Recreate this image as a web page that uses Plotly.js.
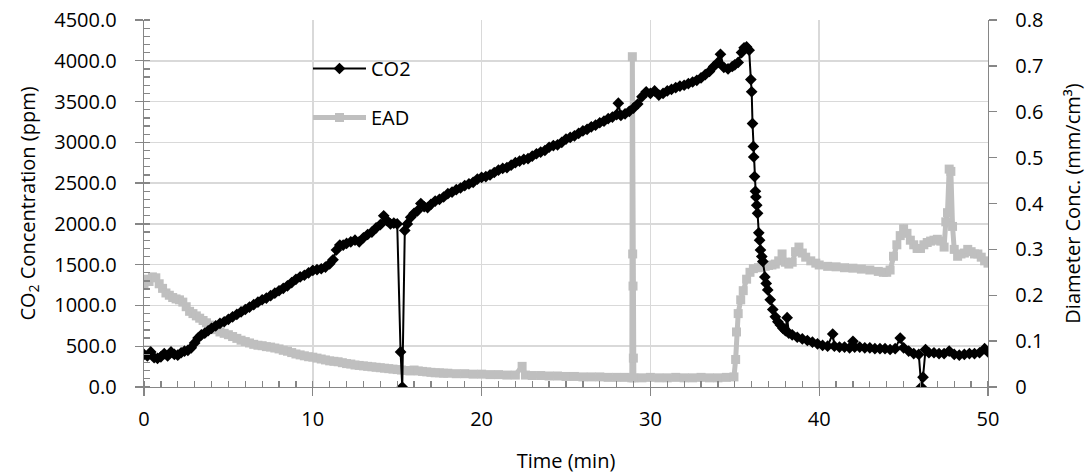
<!DOCTYPE html>
<html>
<head>
<meta charset="utf-8">
<script src="https://cdn.plot.ly/plotly-3.0.1.min.js"></script>
<style>
  html, body { margin: 0; padding: 0; background: #ffffff; }
  #chart { width: 1089px; height: 475px; }
</style>
</head>
<body>
<div id="chart"></div>
<script>
// ---- Data ----
const co2Name = "CO2";
const eadName = "EAD";

const co2Time = [
  0.0,0.2,0.4,0.6,0.8,1.0,1.2,1.4,1.6,1.8,2.0,2.2,2.4,2.6,2.8,3.0,3.2,3.4,3.6,3.8,
  4.0,4.25,4.5,4.75,5.0,5.25,5.5,5.75,6.0,6.25,6.5,6.75,7.0,7.25,7.5,7.75,8.0,8.25,8.5,8.75,
  9.0,9.25,9.5,9.75,10.0,10.25,10.5,10.75,11.0,11.2,11.4,11.6,11.8,12.0,12.25,12.5,12.75,13.0,13.25,13.5,
  13.75,14.0,14.2,14.4,14.6,14.8,15.0,15.2,15.3,15.45,15.6,15.8,16.0,16.2,16.4,16.6,16.8,17.0,17.25,17.5,
  17.75,18.0,18.25,18.5,18.75,19.0,19.25,19.5,19.75,20.0,20.25,20.5,20.75,21.0,21.25,21.5,21.75,22.0,22.25,22.5,
  22.75,23.0,23.25,23.5,23.75,24.0,24.25,24.5,24.75,25.0,25.25,25.5,25.75,26.0,26.25,26.5,26.75,27.0,27.25,27.5,
  27.75,28.0,28.1,28.25,28.5,28.75,29.0,29.25,29.5,29.75,30.0,30.25,30.5,30.75,31.0,31.25,31.5,31.75,32.0,32.25,
  32.5,32.75,33.0,33.25,33.5,33.75,34.0,34.15,34.35,34.6,34.85,35.0,35.2,35.4,35.55,35.7,35.85,35.95,36.0,36.05,
  36.1,36.12,36.17,36.22,36.25,36.3,36.35,36.42,36.47,36.52,36.6,36.66,36.78,36.86,36.95,37.1,37.25,37.4,37.55,37.7,
  37.85,38.0,38.1,38.2,38.4,38.7,39.0,39.3,39.6,39.9,40.2,40.5,40.8,40.9,41.2,41.5,41.8,42.0,42.1,42.4,
  42.7,43.0,43.3,43.6,43.9,44.2,44.5,44.8,45.0,45.3,45.6,45.9,46.05,46.15,46.3,46.5,46.8,47.1,47.4,47.7,
  48.0,48.3,48.6,48.9,49.2,49.5,49.8,50.0
];
const co2Ppm = [
  400,380,430,360,350,370,410,380,430,400,390,420,440,450,480,540,600,640,660,690,
  720,750,780,800,830,860,890,920,950,980,1010,1040,1070,1090,1120,1150,1180,1210,1240,1280,
  1320,1350,1370,1400,1430,1440,1450,1470,1510,1560,1680,1740,1740,1760,1780,1800,1780,1830,1870,1900,
  1950,1990,2100,2040,2000,2010,2000,430,0,1920,2000,2080,2130,2160,2250,2210,2200,2240,2280,2300,
  2330,2370,2390,2420,2440,2470,2490,2510,2550,2570,2580,2600,2630,2660,2680,2690,2720,2750,2770,2790,
  2800,2830,2860,2880,2900,2940,2960,2970,3000,3040,3060,3080,3110,3140,3160,3190,3210,3240,3260,3290,
  3310,3340,3480,3330,3350,3380,3420,3470,3560,3620,3600,3630,3580,3600,3630,3650,3670,3690,3700,3720,
  3740,3760,3790,3830,3870,3930,3980,4080,3920,3900,3930,3950,3980,4100,4160,4170,4130,3770,3620,3230,
  2950,2820,2580,2400,2330,2230,2130,1890,1800,1680,1600,1540,1350,1270,1190,1070,950,860,800,760,
  720,690,850,660,640,610,590,570,550,530,510,500,650,500,490,490,480,560,490,490,
  480,480,470,470,470,460,470,600,480,440,410,400,0,120,460,420,420,410,410,440,
  400,390,400,410,410,420,470,430
];

const eadTime = [
  0.0,0.15,0.3,0.5,0.7,0.9,1.1,1.3,1.5,1.7,1.9,2.1,2.3,2.5,2.7,2.9,3.1,3.3,3.5,3.7,
  3.9,4.1,4.3,4.5,4.75,5.0,5.25,5.5,5.75,6.0,6.25,6.5,6.75,7.0,7.25,7.5,7.75,8.0,8.25,8.5,
  8.75,9.0,9.25,9.5,9.75,10.0,10.25,10.5,10.75,11.0,11.25,11.5,11.75,12.0,12.25,12.5,12.75,13.0,13.25,13.5,
  13.75,14.0,14.25,14.5,14.75,15.0,15.25,15.5,15.75,16.0,16.25,16.5,16.75,17.0,17.25,17.5,17.75,18.0,18.5,19.0,
  19.5,20.0,20.5,21.0,21.5,22.0,22.4,22.6,23.0,23.5,24.0,24.5,25.0,25.5,26.0,26.5,27.0,27.5,28.0,28.5,
  28.9,28.93,28.95,28.97,28.99,29.02,29.5,30.0,30.5,31.0,31.5,32.0,32.5,33.0,33.5,34.0,34.5,34.95,35.05,35.1,
  35.2,35.35,35.5,35.7,35.9,36.1,36.4,36.6,36.8,37.0,37.2,37.4,37.6,37.8,38.0,38.2,38.4,38.6,38.8,39.0,
  39.2,39.5,39.8,40.0,40.5,41.0,41.5,42.0,42.5,43.0,43.5,43.8,44.0,44.2,44.4,44.6,44.8,45.0,45.2,45.4,
  45.6,45.8,46.0,46.2,46.4,46.6,46.8,47.0,47.2,47.4,47.5,47.6,47.7,47.8,47.9,48.0,48.2,48.4,48.6,48.8,
  49.0,49.2,49.4,49.6,49.8,50.0
];
const eadConc = [
  0.225,0.235,0.23,0.24,0.238,0.225,0.215,0.205,0.2,0.195,0.192,0.19,0.185,0.175,0.165,0.16,0.155,0.15,0.145,0.14,
  0.135,0.13,0.125,0.12,0.117,0.114,0.11,0.106,0.102,0.099,0.096,0.093,0.091,0.09,0.088,0.087,0.085,0.083,0.08,0.078,
  0.075,0.072,0.07,0.068,0.066,0.065,0.063,0.061,0.059,0.057,0.056,0.055,0.053,0.051,0.05,0.048,0.047,0.046,0.045,0.044,
  0.043,0.042,0.041,0.04,0.039,0.038,0.037,0.036,0.035,0.037,0.035,0.034,0.033,0.032,0.031,0.031,0.03,0.03,0.029,0.029,
  0.028,0.028,0.027,0.027,0.026,0.026,0.045,0.026,0.025,0.025,0.024,0.024,0.023,0.023,0.022,0.022,0.022,0.021,0.021,0.021,
  0.02,0.72,0.29,0.22,0.063,0.02,0.02,0.021,0.02,0.02,0.021,0.02,0.02,0.021,0.02,0.02,0.021,0.022,0.06,0.12,
  0.16,0.19,0.21,0.235,0.25,0.258,0.26,0.262,0.263,0.265,0.266,0.268,0.275,0.29,0.272,0.268,0.272,0.295,0.305,0.292,
  0.283,0.275,0.27,0.266,0.263,0.262,0.26,0.259,0.257,0.255,0.252,0.25,0.25,0.255,0.285,0.31,0.33,0.345,0.335,0.32,
  0.31,0.302,0.302,0.31,0.315,0.318,0.32,0.322,0.318,0.305,0.36,0.38,0.475,0.47,0.35,0.3,0.285,0.29,0.292,0.3,
  0.295,0.29,0.29,0.283,0.275,0.27
];

const xTitle = "Time (min)";
const yLeftTitle = "CO<sub>2</sub> Concentration (ppm)";
const yRightTitle = "Diameter Conc. (mm/cm³)";

// ---- Styles ----
const FONT = "Open Sans, Noto Sans, sans-serif";
const AXIS = "#868686";
const GRID = "#d9d9d9";

const traces = [
  {
    x: co2Time, y: co2Ppm, name: co2Name, type: "scatter", mode: "lines+markers",
    yaxis: "y2", legendgroup: "a",
    line: { color: "#000000", width: 2 },
    marker: { symbol: "diamond", size: 9, color: "#000000" }
  },
  {
    x: eadTime, y: eadConc, name: eadName, type: "scatter", mode: "lines+markers",
    yaxis: "y", legendgroup: "b",
    line: { color: "#bfbfbf", width: 5 },
    marker: { symbol: "square", size: 9, color: "#bfbfbf" }
  }
];

const layout = {
  width: 1089, height: 475,
  margin: { l: 144, r: 101, t: 20, b: 88 },
  paper_bgcolor: "#ffffff", plot_bgcolor: "#ffffff",
  font: { family: FONT, size: 20, color: "#000000" },
  showlegend: true,
  legend: {
    x: 0.1943, xanchor: "left", y: 0.921, yanchor: "top",
    bgcolor: "rgba(0,0,0,0)", borderwidth: 0,
    font: { family: FONT, size: 20, color: "#000000" },
    traceorder: "grouped", tracegroupgap: 20, itemwidth: 53
  },
  xaxis: {
    range: [0, 50], dtick: 10, tick0: 0,
    showline: true, linecolor: AXIS, linewidth: 1.3,
    ticks: "outside", ticklen: 8, tickcolor: AXIS, tickwidth: 1.3,
    showgrid: true, gridcolor: GRID, gridwidth: 1.5, zeroline: false,
    minor: { dtick: 1, ticks: "inside", ticklen: 6, tickcolor: AXIS, tickwidth: 1.3, showgrid: false },
    ticklabelstandoff: 6,
    title: { text: xTitle, standoff: 22, font: { family: FONT, size: 20 } }
  },
  yaxis: {
    range: [0, 0.8], dtick: 0.1, tick0: 0, side: "right", anchor: "x",
    showline: true, linecolor: AXIS, linewidth: 1.3,
    ticks: "outside", ticklen: 8, tickcolor: AXIS, tickwidth: 1.3,
    showgrid: false, zeroline: false,
    ticklabelstandoff: 14,
    title: { text: yRightTitle, standoff: 23, font: { family: FONT, size: 20 } }
  },
  yaxis2: {
    range: [0, 4500], dtick: 500, tick0: 0, tickformat: ".1f",
    overlaying: "y", side: "left", anchor: "x",
    showline: true, linecolor: AXIS, linewidth: 1.3,
    ticks: "outside", ticklen: 8, tickcolor: AXIS, tickwidth: 1.3,
    showgrid: true, gridcolor: GRID, gridwidth: 1.5, zeroline: false,
    minor: { dtick: 100, ticks: "inside", ticklen: 6, tickcolor: AXIS, tickwidth: 1.3, showgrid: false },
    ticklabelstandoff: 14,
    title: { text: yLeftTitle, standoff: 13, font: { family: FONT, size: 20 } }
  }
};

Plotly.newPlot("chart", traces, layout, { displayModeBar: false, staticPlot: true });
</script>
</body>
</html>
